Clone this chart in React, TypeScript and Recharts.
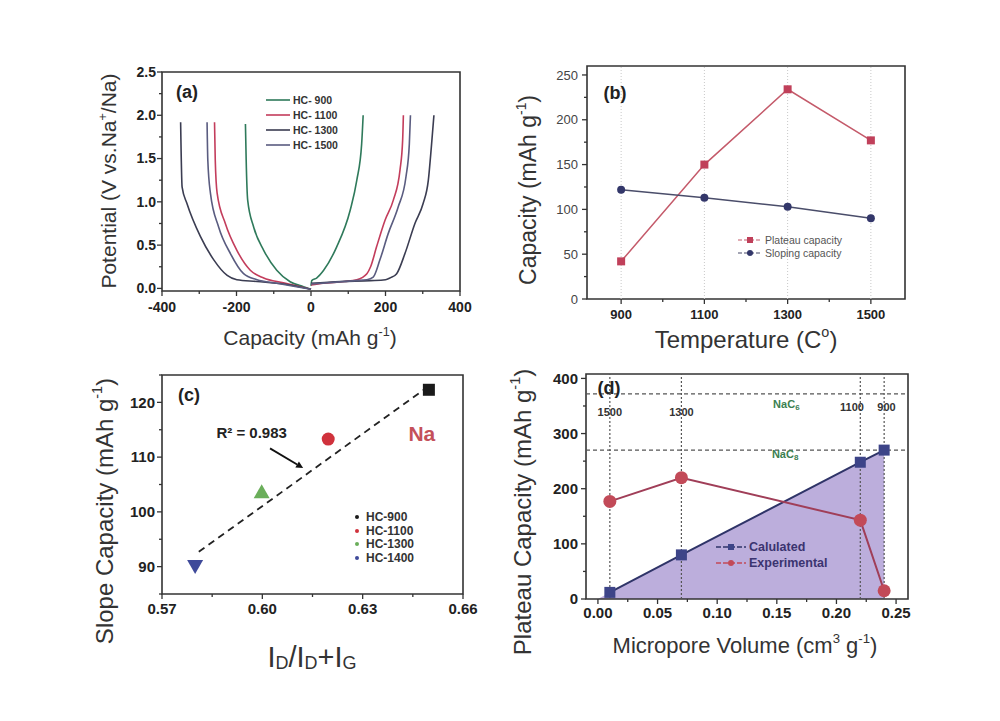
import React from 'react';
import {
  LineChart,
  ComposedChart,
  Line,
  Area,
  Scatter,
  XAxis,
  YAxis,
  ReferenceArea,
  ReferenceLine,
  ReferenceDot,
} from 'recharts';

const FONT = '"Liberation Sans", Arial, sans-serif';
const AXIS = '#333';

// ---------- (a) charge / discharge curves ----------
const hc900DisCap = [-176, -174, -170, -154, -127, -92, -56, -20, 0];
const hc900DisV = [1.9, 1.48, 1.02, 0.71, 0.44, 0.21, 0.077, 0.02, -0.01];
const hc900ChgCap = [0, 2, 15, 34, 69, 105, 123, 136, 140];
const hc900ChgV = [0.03, 0.09, 0.12, 0.21, 0.48, 0.9, 1.25, 1.67, 2.0];

const hc1100DisCap = [-259, -257, -252, -230, -199, -163, -127, -74, 0];
const hc1100DisV = [1.92, 1.48, 1.1, 0.75, 0.44, 0.21, 0.12, 0.065, -0.01];
const hc1100ChgCap = [0, 33, 90, 123, 150, 160, 176, 199, 221, 239, 246, 248];
const hc1100ChgV = [0.04, 0.06, 0.08, 0.1, 0.17, 0.25, 0.48, 0.79, 1.02, 1.37, 1.71, 2.0];

const hc1300DisCap = [-350, -346, -333, -297, -261, -225, -199, -145, -56, 0];
const hc1300DisV = [1.92, 1.17, 0.98, 0.6, 0.33, 0.15, 0.1, 0.08, 0.04, -0.01];
const hc1300ChgCap = [0, 80, 160, 200, 212, 230, 252, 279, 301, 315, 323, 330];
const hc1300ChgV = [0.06, 0.08, 0.09, 0.1, 0.12, 0.17, 0.4, 0.75, 0.98, 1.25, 1.63, 2.0];

const hc1500DisCap = [-279, -277, -270, -248, -216, -181, -145, -92, 0];
const hc1500DisV = [1.92, 1.48, 1.1, 0.71, 0.4, 0.17, 0.1, 0.06, -0.01];
const hc1500ChgCap = [0, 60, 120, 150, 167, 185, 207, 234, 255, 264, 267];
const hc1500ChgV = [0.05, 0.07, 0.09, 0.1, 0.13, 0.33, 0.63, 0.94, 1.29, 1.67, 2.0];

const legendA = ['HC- 900', 'HC- 1100', 'HC- 1300', 'HC- 1500'];
const colorsA = ['#2f7a5b', '#c33d5c', '#3b3d52', '#5a5c80'];

// ---------- (b) capacity vs temperature ----------
const temps = [900, 1100, 1300, 1500];
const plateauCap = [42, 150, 234, 177];
const slopingCap = [122, 113, 103, 90];

// ---------- (c) slope capacity vs ID/(ID+IG) ----------
const ratioC = [0.6498, 0.6197, 0.5998, 0.5799];
const slopeC = [122.3, 113.3, 103.4, 90.1];
const samplesC = ['HC-900', 'HC-1100', 'HC-1300', 'HC-1400'];
const colorsC = ['#1a1a1a', '#d0323c', '#6aae5a', '#3f4a9a'];
const fitX = [0.581, 0.6485];
const fitY = [92.7, 122.4];

// ---------- (d) plateau capacity vs micropore volume ----------
const volumes = [0.01, 0.07, 0.22, 0.24];
const calcCap = [12, 80, 248, 270];
const expCap = [177, 220, 143, 15];
const fillX = [0, 0.01, 0.07, 0.22, 0.24];
const fillY = [0, 12, 80, 248, 270];
const tempLabelsD = ['1500', '1300', '1100', '900'];
const tempLabelX = [0.01, 0.07, 0.213, 0.242];
const tempLabelY = [338, 338, 348, 348];

const pts = (xs: number[], ys: number[]) => xs.map((x, i) => ({ x, y: ys[i] }));

type Box = { l: number; t: number; r: number; b: number };
const Y_W = 70;
const X_H = 40;
const PAD = 10;
const PAD_R = 30;

const BOX_A: Box = { l: 162, t: 72, r: 460, b: 291 };
const BOX_B: Box = { l: 587, t: 66, r: 905, b: 299 };
const BOX_C: Box = { l: 162, t: 375, r: 463, b: 594 };
const BOX_D: Box = { l: 586, t: 374, r: 908, b: 599 };

const chartSize = (b: Box) => ({
  width: b.r - b.l + Y_W + PAD_R,
  height: b.b - b.t + PAD + X_H,
  margin: { top: PAD, right: PAD_R, left: 0, bottom: 0 },
});
const chartPos = (b: Box): React.CSSProperties => ({
  position: 'absolute',
  left: b.l - Y_W,
  top: b.t - PAD,
});

type TickOpts = { size?: number; weight?: string; color?: string; gap?: number };

function makeTick(
  side: 'bottom' | 'left',
  majors: number[],
  fmt: (v: number) => string,
  opts: TickOpts = {}
) {
  const { size = 14, weight = 'bold', color = '#222', gap = 3 } = opts;
  return (p: any) => {
    const { x, y, payload } = p;
    const v = payload.value;
    const major = majors.some((m) => Math.abs(m - v) < 1e-9);
    const len = major ? 5 : 3;
    if (side === 'bottom') {
      return (
        <g>
          <line x1={x} y1={y} x2={x} y2={y + len} stroke={AXIS} strokeWidth={1.3} />
          {major && (
            <text
              x={x}
              y={y + len + gap}
              dy="0.8em"
              textAnchor="middle"
              fontSize={size}
              fontWeight={weight}
              fill={color}
              fontFamily={FONT}
            >
              {fmt(v)}
            </text>
          )}
        </g>
      );
    }
    return (
      <g>
        <line x1={x} y1={y} x2={x - len} y2={y} stroke={AXIS} strokeWidth={1.3} />
        {major && (
          <text
            x={x - len - gap}
            y={y}
            dy="0.35em"
            textAnchor="end"
            fontSize={size}
            fontWeight={weight}
            fill={color}
            fontFamily={FONT}
          >
            {fmt(v)}
          </text>
        )}
      </g>
    );
  };
}

const Frame = ({ x, y }: { x: number[]; y: number[] }) => (
  <ReferenceArea
    x1={x[0]}
    x2={x[1]}
    y1={y[0]}
    y2={y[1]}
    fill="none"
    stroke={AXIS}
    strokeWidth={1.6}
    ifOverflow="visible"
  />
);

function Txt(props: {
  cx: number;
  cy: number;
  size: number;
  rotate?: boolean;
  weight?: string;
  color?: string;
  children: React.ReactNode;
}) {
  const { cx, cy, size, rotate, weight = 'normal', color = '#333', children } = props;
  return (
    <div
      style={{
        position: 'absolute',
        left: cx,
        top: cy,
        transform: `translate(-50%, -50%)${rotate ? ' rotate(-90deg)' : ''}`,
        fontSize: size,
        fontWeight: weight as any,
        color,
        whiteSpace: 'nowrap',
        lineHeight: 1,
      }}
    >
      {children}
    </div>
  );
}

const Sup = ({ children }: { children: React.ReactNode }) => (
  <span style={{ fontSize: '0.6em', position: 'relative', top: '-0.75em' }}>{children}</span>
);
const Sub = ({ children }: { children: React.ReactNode }) => (
  <span style={{ fontSize: '0.62em', position: 'relative', top: '0.1em' }}>{children}</span>
);

const range = (a: number, b: number, step: number) => {
  const out: number[] = [];
  for (let v = a; v <= b + 1e-9; v += step) out.push(Math.round(v * 1e6) / 1e6);
  return out;
};

function PanelA() {
  const b = BOX_A;
  const series = [
    { dis: pts(hc900DisCap, hc900DisV), chg: pts(hc900ChgCap, hc900ChgV) },
    { dis: pts(hc1100DisCap, hc1100DisV), chg: pts(hc1100ChgCap, hc1100ChgV) },
    { dis: pts(hc1300DisCap, hc1300DisV), chg: pts(hc1300ChgCap, hc1300ChgV) },
    { dis: pts(hc1500DisCap, hc1500DisV), chg: pts(hc1500ChgCap, hc1500ChgV) },
  ];
  return (
    <div style={chartPos(b)}>
      <LineChart {...chartSize(b)}>
        <XAxis
          type="number"
          dataKey="x"
          domain={[-400, 400]}
          ticks={range(-400, 400, 100)}
          interval={0}
          tickSize={0}
          tickMargin={0}
          tickLine={false}
          axisLine={false}
          height={X_H}
          allowDataOverflow
          tick={makeTick('bottom', [-400, -200, 0, 200, 400], (v) => String(v), { gap: 5 })}
        />
        <YAxis
          type="number"
          domain={[-0.03, 2.5]}
          ticks={range(0, 2.5, 0.25)}
          interval={0}
          tickSize={0}
          tickMargin={0}
          tickLine={false}
          axisLine={false}
          width={Y_W}
          allowDataOverflow
          tick={makeTick('left', range(0, 2.5, 0.5), (v) => v.toFixed(1), { gap: 1 })}
        />
        <Frame x={[-400, 400]} y={[-0.03, 2.5]} />
        {series.map((s, i) => (
          <Line
            key={`d${i}`}
            data={s.dis}
            dataKey="y"
            type="monotone"
            stroke={colorsA[i]}
            strokeWidth={1.6}
            dot={false}
            isAnimationActive={false}
          />
        ))}
        {series.map((s, i) => (
          <Line
            key={`c${i}`}
            data={s.chg}
            dataKey="y"
            type="monotone"
            stroke={colorsA[i]}
            strokeWidth={1.6}
            dot={false}
            isAnimationActive={false}
          />
        ))}
      </LineChart>
    </div>
  );
}

const squareDot = (color: string, s: number) => (p: any) => (
  <rect key={`sq${p.index}`} x={p.cx - s / 2} y={p.cy - s / 2} width={s} height={s} fill={color} />
);
const circleDot = (color: string, r: number) => (p: any) => (
  <circle key={`ci${p.index}`} cx={p.cx} cy={p.cy} r={r} fill={color} />
);

function PanelB() {
  const b = BOX_B;
  const data = temps.map((t, i) => ({ x: t, plateau: plateauCap[i], sloping: slopingCap[i] }));
  return (
    <div style={chartPos(b)}>
      <LineChart {...chartSize(b)} data={data}>
        <XAxis
          type="number"
          dataKey="x"
          domain={[818, 1582]}
          ticks={range(900, 1500, 100)}
          interval={0}
          tickSize={0}
          tickMargin={0}
          tickLine={false}
          axisLine={false}
          height={X_H}
          allowDataOverflow
          tick={makeTick('bottom', temps, (v) => String(v), { size: 13, gap: 5 })}
        />
        <YAxis
          type="number"
          domain={[0, 260]}
          ticks={range(0, 250, 25)}
          interval={0}
          tickSize={0}
          tickMargin={0}
          tickLine={false}
          axisLine={false}
          width={Y_W}
          allowDataOverflow
          tick={makeTick('left', range(0, 250, 50), (v) => String(v), {
            size: 13,
            weight: 'normal',
            color: '#444',
            gap: 4,
          })}
        />
        {temps.map((t) => (
          <ReferenceLine key={t} x={t} stroke="#c8c8c8" strokeDasharray="1 2" />
        ))}
        <Frame x={[818, 1582]} y={[0, 260]} />
        <Line
          dataKey="plateau"
          stroke="#c45a6a"
          strokeWidth={1.5}
          dot={squareDot('#c0405a', 8)}
          isAnimationActive={false}
        />
        <Line
          dataKey="sloping"
          stroke="#4a4d6a"
          strokeWidth={1.5}
          dot={circleDot('#33376a', 4)}
          isAnimationActive={false}
        />
      </LineChart>
    </div>
  );
}

const shapesC = [
  (p: any) => <rect x={p.cx - 6} y={p.cy - 6} width={12} height={12} fill={colorsC[0]} />,
  (p: any) => <circle cx={p.cx} cy={p.cy} r={6.5} fill={colorsC[1]} />,
  (p: any) => (
    <polygon
      points={`${p.cx},${p.cy - 9} ${p.cx - 8},${p.cy + 5} ${p.cx + 8},${p.cy + 5}`}
      fill={colorsC[2]}
    />
  ),
  (p: any) => (
    <polygon
      points={`${p.cx - 8},${p.cy - 6} ${p.cx + 8},${p.cy - 6} ${p.cx},${p.cy + 8}`}
      fill={colorsC[3]}
    />
  ),
];

const arrowShape = (p: any) => {
  const { x1, y1, x2, y2 } = p;
  const a = Math.atan2(y2 - y1, x2 - x1);
  const h = 7;
  const w = 3.5;
  const bx = x2 - h * Math.cos(a);
  const by = y2 - h * Math.sin(a);
  const px = -Math.sin(a) * w;
  const py = Math.cos(a) * w;
  return (
    <g>
      <line x1={x1} y1={y1} x2={bx} y2={by} stroke="#111" strokeWidth={1.8} />
      <polygon points={`${x2},${y2} ${bx + px},${by + py} ${bx - px},${by - py}`} fill="#111" />
    </g>
  );
};

const textShape =
  (text: string, size: number, color: string, weight = 'bold') =>
  (p: any) =>
    (
      <text
        x={p.cx}
        y={p.cy}
        dy="0.35em"
        textAnchor="middle"
        fontSize={size}
        fontWeight={weight}
        fill={color}
        fontFamily={FONT}
      >
        {text}
      </text>
    );

function PanelC() {
  const b = BOX_C;
  return (
    <div style={chartPos(b)}>
      <ComposedChart {...chartSize(b)}>
        <XAxis
          type="number"
          dataKey="x"
          domain={[0.57, 0.66]}
          ticks={range(0.57, 0.66, 0.015)}
          interval={0}
          tickSize={0}
          tickMargin={0}
          tickLine={false}
          axisLine={false}
          height={X_H}
          allowDataOverflow
          tick={makeTick('bottom', [0.57, 0.6, 0.63, 0.66], (v) => v.toFixed(2), { size: 15, gap: 3 })}
        />
        <YAxis
          type="number"
          dataKey="y"
          domain={[85, 125]}
          ticks={range(85, 125, 5)}
          interval={0}
          tickSize={0}
          tickMargin={0}
          tickLine={false}
          axisLine={false}
          width={Y_W}
          allowDataOverflow
          tick={makeTick('left', [90, 100, 110, 120], (v) => String(v), { size: 15, gap: 2 })}
        />
        <Frame x={[0.57, 0.66]} y={[85, 125]} />
        <Line
          data={pts(fitX, fitY)}
          dataKey="y"
          stroke="#222"
          strokeWidth={1.8}
          strokeDasharray="7 5"
          dot={false}
          isAnimationActive={false}
        />
        {samplesC.map((s, i) => (
          <Scatter
            key={s}
            name={s}
            data={[{ x: ratioC[i], y: slopeC[i] }]}
            shape={shapesC[i]}
            isAnimationActive={false}
          />
        ))}
        <ReferenceLine
          segment={[
            { x: 0.6023, y: 111.6 },
            { x: 0.6122, y: 108.0 },
          ]}
          shape={arrowShape}
          ifOverflow="visible"
        />
        <ReferenceDot x={0.5968} y={114.4} r={0} shape={textShape('R\u00B2 = 0.983', 15, '#222')} />
        <ReferenceDot x={0.6477} y={114.35} r={0} shape={textShape('Na', 21, '#c4505a')} />
      </ComposedChart>
    </div>
  );
}

function PanelD() {
  const b = BOX_D;
  return (
    <div style={chartPos(b)}>
      <ComposedChart {...chartSize(b)}>
        <XAxis
          type="number"
          dataKey="x"
          domain={[-0.01, 0.26]}
          ticks={range(0, 0.25, 0.025)}
          interval={0}
          tickSize={0}
          tickMargin={0}
          tickLine={false}
          axisLine={false}
          height={X_H}
          allowDataOverflow
          tick={makeTick('bottom', range(0, 0.25, 0.05), (v) => v.toFixed(2), { size: 15, gap: 2 })}
        />
        <YAxis
          type="number"
          dataKey="y"
          domain={[0, 408]}
          ticks={range(0, 400, 50)}
          interval={0}
          tickSize={0}
          tickMargin={0}
          tickLine={false}
          axisLine={false}
          width={Y_W}
          allowDataOverflow
          tick={makeTick('left', range(0, 400, 100), (v) => String(v), { size: 15, gap: 3 })}
        />
        <Area
          data={pts(fillX, fillY)}
          dataKey="y"
          type="linear"
          fill="#bcaedc"
          fillOpacity={1}
          stroke="none"
          isAnimationActive={false}
        />
        {volumes.map((v) => (
          <ReferenceLine key={v} x={v} stroke="#555" strokeDasharray="2 2" strokeWidth={1.2} />
        ))}
        <ReferenceLine y={372} stroke="#555" strokeDasharray="4 3" strokeWidth={1.2} />
        <ReferenceLine y={270} stroke="#555" strokeDasharray="4 3" strokeWidth={1.2} />
        <Frame x={[-0.01, 0.26]} y={[0, 408]} />
        <Line
          data={pts(volumes, calcCap)}
          dataKey="y"
          stroke="#2f3468"
          strokeWidth={2}
          dot={squareDot('#3d4488', 11)}
          isAnimationActive={false}
        />
        <Line
          data={pts(volumes, expCap)}
          dataKey="y"
          stroke="#a03e58"
          strokeWidth={2}
          dot={circleDot('#c24a58', 6.5)}
          isAnimationActive={false}
        />
        {tempLabelsD.map((t, i) => (
          <ReferenceDot
            key={t}
            x={tempLabelX[i]}
            y={tempLabelY[i]}
            r={0}
            shape={textShape(t, 11, '#333')}
          />
        ))}
        <ReferenceDot
          x={0.158}
          y={353}
          r={0}
          shape={(p: any) => (
            <text x={p.cx} y={p.cy} dy="0.35em" textAnchor="middle" fontSize={11} fontWeight="bold" fill="#3b8050" fontFamily={FONT}>
              NaC<tspan fontSize={8} dy="2">6</tspan>
            </text>
          )}
        />
        <ReferenceDot
          x={0.157}
          y={262}
          r={0}
          shape={(p: any) => (
            <text x={p.cx} y={p.cy} dy="0.35em" textAnchor="middle" fontSize={11} fontWeight="bold" fill="#3b8050" fontFamily={FONT}>
              NaC<tspan fontSize={8} dy="2">8</tspan>
            </text>
          )}
        />
      </ComposedChart>
    </div>
  );
}

function LegendRow(props: {
  left: number;
  top: number;
  icon: React.ReactNode;
  iconW: number;
  label: string;
  size: number;
  color: string;
  weight?: string;
}) {
  const { left, top, icon, iconW, label, size, color, weight = 'bold' } = props;
  return (
    <div
      style={{
        position: 'absolute',
        left,
        top: top - 7,
        height: 14,
        display: 'flex',
        alignItems: 'center',
        fontSize: size,
        fontWeight: weight as any,
        color,
        whiteSpace: 'nowrap',
      }}
    >
      <svg width={iconW} height={14} style={{ marginRight: 3 }}>
        {icon}
      </svg>
      {label}
    </div>
  );
}

export default function App() {
  return (
    <div
      style={{
        position: 'absolute',
        left: 0,
        top: 0,
        width: 1000,
        height: 721,
        background: '#fff',
        fontFamily: FONT,
        overflow: 'hidden',
      }}
    >
      <PanelA />
      <PanelB />
      <PanelC />
      <PanelD />

      {/* panel letters */}
      <Txt cx={187} cy={92} size={18} weight="bold" color="#222">(a)</Txt>
      <Txt cx={615} cy={93} size={18} weight="bold" color="#222">(b)</Txt>
      <Txt cx={189} cy={395} size={18} weight="bold" color="#222">(c)</Txt>
      <Txt cx={609} cy={388} size={18} weight="bold" color="#222">(d)</Txt>

      {/* axis titles */}
      <Txt cx={108} cy={181} size={21} rotate>
        Potential (V vs.Na<Sup>+</Sup>/Na)
      </Txt>
      <Txt cx={310} cy={337} size={21}>
        Capacity (mAh g<Sup>-1</Sup>)
      </Txt>
      <Txt cx={528} cy={190} size={23} rotate>
        Capacity (mAh g<Sup>-1</Sup>)
      </Txt>
      <Txt cx={746} cy={340} size={24}>
        Temperature (C<Sup>o</Sup>)
      </Txt>
      <Txt cx={105} cy={511} size={24} rotate>
        Slope Capacity (mAh g<Sup>-1</Sup>)
      </Txt>
      <Txt cx={312} cy={657} size={29}>
        I<Sub>D</Sub>/I<Sub>D</Sub>+I<Sub>G</Sub>
      </Txt>
      <Txt cx={523} cy={512} size={24} rotate>
        Plateau Capacity (mAh g<Sup>-1</Sup>)
      </Txt>
      <Txt cx={745} cy={646} size={22}>
        Micropore Volume (cm<Sup>3</Sup> g<Sup>-1</Sup>)
      </Txt>

      {/* legend (a) */}
      {legendA.map((l, i) => (
        <LegendRow
          key={l}
          left={266}
          top={100 + i * 15}
          iconW={24}
          icon={<line x1={0} y1={7} x2={24} y2={7} stroke={colorsA[i]} strokeWidth={1.6} />}
          label={l}
          size={10.5}
          color="#333"
        />
      ))}

      {/* legend (b) */}
      <LegendRow
        left={738}
        top={240}
        iconW={24}
        icon={
          <g>
            <line x1={0} y1={7} x2={24} y2={7} stroke="#c45a6a" strokeWidth={1.2} strokeDasharray="4 2" />
            <rect x={9} y={4} width={6} height={6} fill="#c0405a" />
          </g>
        }
        label="Plateau capacity"
        size={10.5}
        color="#555"
        weight="normal"
      />
      <LegendRow
        left={738}
        top={253}
        iconW={24}
        icon={
          <g>
            <line x1={0} y1={7} x2={24} y2={7} stroke="#4a4d6a" strokeWidth={1.2} strokeDasharray="4 2" />
            <circle cx={12} cy={7} r={3} fill="#33376a" />
          </g>
        }
        label="Sloping capacity"
        size={10.5}
        color="#555"
        weight="normal"
      />

      {/* legend (c) */}
      {samplesC.map((s, i) => (
        <LegendRow
          key={s}
          left={353}
          top={517 + i * 13.5}
          iconW={10}
          icon={<circle cx={4} cy={7} r={2} fill={colorsC[i]} />}
          label={s}
          size={12}
          color="#333"
        />
      ))}

      {/* legend (d) */}
      <LegendRow
        left={716}
        top={547}
        iconW={30}
        icon={
          <g>
            <line x1={0} y1={7} x2={30} y2={7} stroke="#2f3468" strokeWidth={1.5} strokeDasharray="5 2" />
            <rect x={12} y={4} width={6} height={6} fill="#3d4488" />
          </g>
        }
        label="Calulated"
        size={12.5}
        color="#3b3470"
      />
      <LegendRow
        left={716}
        top={563}
        iconW={30}
        icon={
          <g>
            <line x1={0} y1={7} x2={30} y2={7} stroke="#c24a58" strokeWidth={1.5} strokeDasharray="5 2" />
            <circle cx={15} cy={7} r={3} fill="#c24a58" />
          </g>
        }
        label="Experimental"
        size={12.5}
        color="#3b3470"
      />
    </div>
  );
}
